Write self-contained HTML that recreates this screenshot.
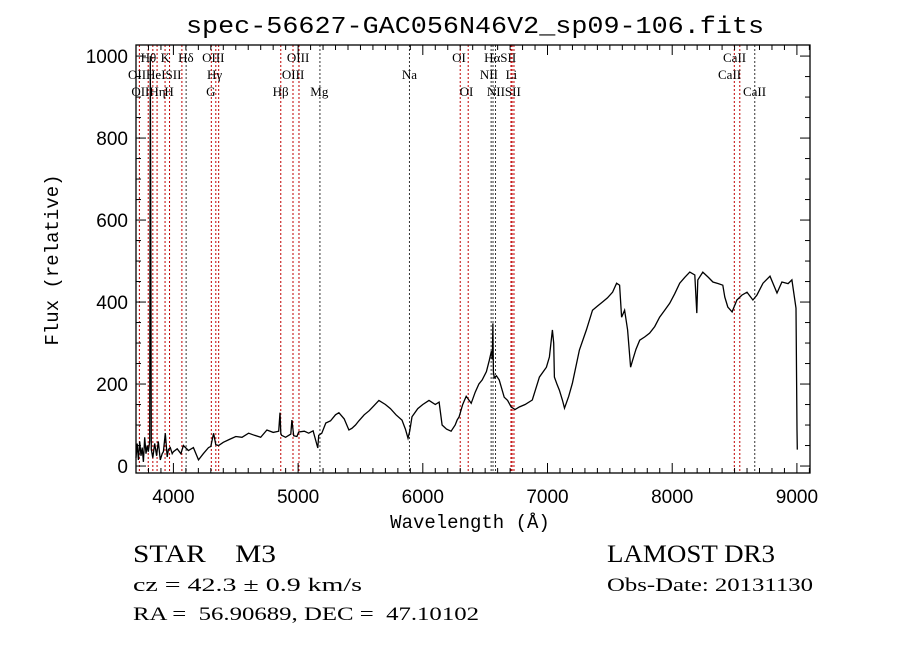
<!DOCTYPE html>
<html><head><meta charset="utf-8"><style>
html,body{margin:0;padding:0;background:#fff;width:900px;height:649px;overflow:hidden}
svg{display:block}
text{font-family:"Liberation Serif",serif;fill:#000}
</style></head><body>
<svg id="chart" width="900" height="649" viewBox="0 0 900 649" xmlns="http://www.w3.org/2000/svg">
<rect width="900" height="649" fill="#fff"/>
<text x="475" y="33" text-anchor="middle" font-size="24" style="font-family:'Liberation Mono',monospace" textLength="578" lengthAdjust="spacingAndGlyphs">spec-56627-GAC056N46V2_sp09-106.fits</text>
<g id="lines"></g>
<g id="labels"></g>
<g id="axes"></g>
<path id="spec" fill="none" stroke="#000" stroke-width="1.3"/>
<text x="470" y="528" text-anchor="middle" font-size="19" style="font-family:'Liberation Mono',monospace">Wavelength (Å)</text>
<text transform="translate(58,260) rotate(-90)" text-anchor="middle" font-size="19" style="font-family:'Liberation Mono',monospace">Flux (relative)</text>
<text x="133" y="562" font-size="25" xml:space="preserve" textLength="143" lengthAdjust="spacingAndGlyphs">STAR    M3</text>
<text x="133" y="591" font-size="19" textLength="229" lengthAdjust="spacingAndGlyphs">cz = 42.3 ± 0.9 km/s</text>
<text x="133" y="620" font-size="19" xml:space="preserve" textLength="346" lengthAdjust="spacingAndGlyphs">RA =  56.90689, DEC =  47.10102</text>
<text x="607" y="562" font-size="25" textLength="168" lengthAdjust="spacingAndGlyphs">LAMOST DR3</text>
<text x="607" y="591" font-size="19" textLength="206" lengthAdjust="spacingAndGlyphs">Obs-Date: 20131130</text>
</svg>
<script>
const wave=[3700,3710,3719,3730,3740,3750,3759,3770,3780,3790,3799,3810,3815,3818,3823,3835,3850,3865,3879,3895,3910,3920,3935,3950,3960,3975,3990,4000,4030,4060,4080,4120,4160,4201,4240,4281,4300,4322,4340,4362,4400,4450,4500,4550,4603,4650,4700,4750,4800,4844,4855,4861,4868,4900,4941,4950,4965,4990,5005,5050,5085,5120,5158,5165,5190,5222,5260,5300,5327,5370,5407,5431,5460,5487,5530,5570,5610,5648,5700,5740,5785,5833,5860,5881,5895,5913,5960,6000,6050,6100,6131,6155,6190,6227,6260,6275,6291,6320,6348,6388,6420,6450,6476,6510,6533,6550,6557,6562,6566,6573,6590,6613,6653,6680,6709,6740,6774,6820,6878,6935,6991,7015,7039,7050,7055,7075,7095,7120,7136,7170,7200,7256,7312,7361,7400,7441,7480,7522,7554,7578,7594,7618,7642,7666,7682,7710,7739,7780,7819,7860,7899,7940,7980,8020,8060,8100,8141,8181,8197,8205,8245,8290,8326,8370,8406,8422,8446,8480,8519,8559,8600,8647,8679,8728,8784,8840,8880,8929,8960,8993,9001,9003];
const flux=[20,55,15,60,25,45,10,70,30,50,35,60,1000,700,40,20,55,25,60,15,30,35,80,22,40,45,30,35,42,30,50,38,45,15,30,45,48,80,52,50,58,65,72,70,80,75,70,88,82,85,130,80,75,70,78,112,74,72,83,85,80,86,44,75,80,105,110,125,130,115,88,92,100,110,125,135,148,160,150,140,125,112,90,68,85,120,140,150,160,150,156,100,90,85,100,112,120,150,170,153,180,200,210,230,258,280,260,348,230,215,220,210,168,160,144,138,144,150,161,217,241,266,332,300,217,200,185,160,141,170,202,283,332,380,390,400,410,424,446,441,363,380,332,241,258,285,307,315,324,340,363,380,397,420,446,460,473,466,373,454,473,460,449,445,441,412,388,376,405,417,424,405,417,446,463,422,449,445,454,385,88,40];
const yTicks=[0,200,400,600,800,1000];
const xTicks=[4000,5000,6000,7000,8000,9000];
const lineWaves=[3727,3798,3835,3869,3933,3969,4068,4102,4304,4340,4363,4861,4959,5007,5175,5893,6300,6364,6548,6563,6583,6707,6716,6731,8498,8542,8662];
const lineDark=[0,0,0,0,0,0,0,1,0,0,0,0,0,0,1,1,0,0,1,1,1,0,0,0,0,0,1];
const labelText=["Hθ","K","Hδ","OIII","OIII","OI","HαSII","CaII","OIIHeISII","Hγ","OIII","Na","NII","Li","CaII","OIIHη","H","G","Hβ","Mg","OI","NIISII","CaII"];
const labelWave=[3800,3935,4100,4320,5000,6290,6620,8500,3850,4330,4960,5893,6530,6710,8460,3800,3965,4300,4860,5170,6350,6650,8660];
const labelRow=[0,0,0,0,0,0,0,0,1,1,1,1,1,1,1,2,2,2,2,2,2,2,2];

const L=136,R=810,T=45,B=473;
const x0=3700,x1=9105,y0=-17,y1=1027;
const sx=w=>L+(w-x0)/(x1-x0)*(R-L);
const sy=f=>B-(f-y0)/(y1-y0)*(B-T);
const NS="http://www.w3.org/2000/svg";
function mk(tag,attrs,parent){const e=document.createElementNS(NS,tag);for(const k in attrs)e.setAttribute(k,attrs[k]);parent.appendChild(e);return e;}

const gl=document.getElementById('lines');
lineWaves.forEach((w,i)=>{
  const e=mk('line',{x1:sx(w),x2:sx(w),y1:T,y2:B,stroke:lineDark[i]?'#333':'#c00000','stroke-width':1,'stroke-dasharray':'2,2'},gl);
  
  
});
const glab=document.getElementById('labels');
labelText.forEach((t,i)=>{
  const e=mk('text',{x:sx(labelWave[i]),y:62+labelRow[i]*17,'text-anchor':'middle','font-size':13},glab);
  e.textContent=t;
  
  
});

const ga=document.getElementById('axes');
const frame=mk('rect',{x:L,y:T,width:R-L,height:B-T,fill:'none',stroke:'#000','stroke-width':1.3},ga);


for(let w=3700;w<=9100;w+=100){
  const major=w%1000===0, len=major?10:5, X=sx(w);
  mk('line',{x1:X,x2:X,y1:B,y2:B-len,stroke:'#000'},ga);
  mk('line',{x1:X,x2:X,y1:T,y2:T+len,stroke:'#000'},ga);
}
for(let f=0;f<=1000;f+=50){
  const major=f%200===0,len=major?10:5,Y=sy(f);
  mk('line',{x1:L,x2:L+len,y1:Y,y2:Y,stroke:'#000'},ga);
  mk('line',{x1:R,x2:R-len,y1:Y,y2:Y,stroke:'#000'},ga);
}
xTicks.forEach(w=>{
  const e=mk('text',{x:sx(w),y:503,'text-anchor':'middle','font-size':19,style:"font-family:'Liberation Sans',sans-serif"},ga);
  e.textContent=w;
  
  
});
yTicks.forEach(f=>{
  const e=mk('text',{x:128,y:sy(f)+7,'text-anchor':'end','font-size':19,style:"font-family:'Liberation Sans',sans-serif"},ga);
  e.textContent=f;
  
  
});
let d='';
wave.forEach((w,i)=>{d+=(i?'L':'M')+sx(w).toFixed(1)+','+sy(flux[i]).toFixed(1);});
document.getElementById('spec').setAttribute('d',d);
</script>
</body></html>
